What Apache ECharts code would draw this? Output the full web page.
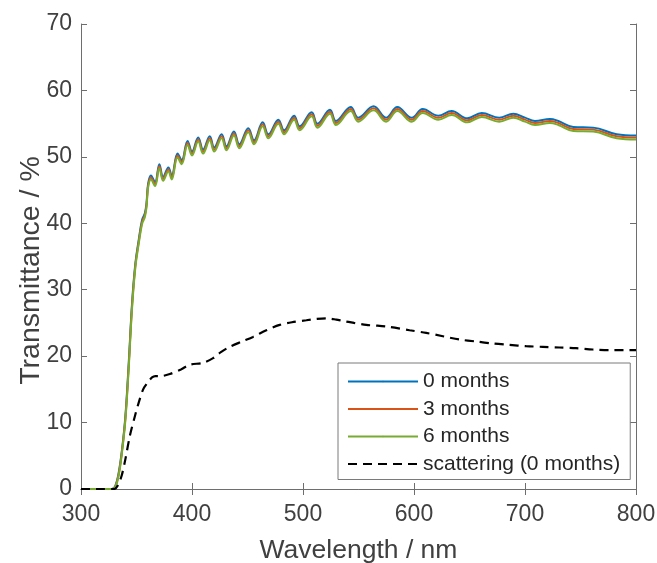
<!DOCTYPE html>
<html>
<head>
<meta charset="utf-8">
<script src="https://cdn.jsdelivr.net/npm/echarts@6/dist/echarts.min.js"></script>
<style>
	html, body { margin: 0; padding: 0; background: #fff; }
	#chart { width: 657px; height: 563px; }
</style>
</head>
<body>
<div id="chart"></div>
<script>
// 波长 (nm)
var wavelength = [300, 310, 320, 328, 331, 334, 337, 340, 343, 346,
	349, 352, 355, 357.5, 359, 360.5, 363, 366.7, 370.6, 374,
	378.7, 381.7, 387, 390.7, 396, 400, 405.6, 410, 416, 420,
	426.7, 431, 437.8, 442.6, 450.7, 455.9, 463.7, 468.8, 477.8, 483,
	492, 497, 507.8, 513, 524.3, 529.7, 543, 549.8, 563.6, 574.8,
	585, 598, 607.8, 621.9, 633.9, 648, 661, 676.8, 689.5, 700,
	709, 722.5, 730, 743.5, 761.5, 782.6, 800];
// 0 months
var month0 = [0, 0, 0, 0, 0.5, 2.5, 6, 11, 19, 28,
	34, 37.5, 40.5, 41.5, 43, 46, 47.2, 46.2, 48.9, 47,
	48.4, 47.2, 50.5, 49.5, 52.4, 50.8, 52.9, 51.1, 53.1, 51.4,
	53.4, 51.6, 53.8, 51.9, 54.3, 52.5, 55.2, 53.4, 55.6, 54,
	56.2, 54.6, 56.7, 55, 57.1, 55.4, 57.5, 55.9, 57.6, 55.9,
	57.5, 55.9, 57.2, 56.2, 56.9, 55.8, 56.6, 55.9, 56.5, 55.9,
	55.4, 55.7, 55.4, 54.5, 54.4, 53.4, 53.2];
// 3 months
var month3 = [0, 0, 0, 0, 0.4, 2.3, 5.8, 10.7, 18.6, 27.6,
	33.7, 37.2, 40.2, 41.2, 42.7, 45.7, 46.9, 45.9, 48.6, 46.7,
	48.1, 46.9, 50.2, 49.2, 52.1, 50.5, 52.6, 50.8, 52.8, 51.1,
	53.1, 51.3, 53.5, 51.6, 54.0, 52.2, 54.9, 53.1, 55.3, 53.7,
	55.9, 54.3, 56.4, 54.7, 56.8, 55.1, 57.2, 55.6, 57.3, 55.6,
	57.2, 55.6, 56.9, 55.9, 56.6, 55.5, 56.3, 55.6, 56.2, 55.6,
	55.1, 55.4, 55.1, 54.2, 54.1, 53.1, 52.9];
// 6 months
var month6 = [0, 0, 0, 0, 0.3, 2.1, 5.6, 10.4, 18.2, 27.2,
	33.4, 36.9, 39.9, 40.9, 42.4, 45.4, 46.6, 45.6, 48.3, 46.4,
	47.8, 46.6, 49.9, 48.9, 51.8, 50.2, 52.3, 50.5, 52.5, 50.8,
	52.8, 51.0, 53.2, 51.3, 53.7, 51.9, 54.6, 52.8, 55.0, 53.4,
	55.6, 54.0, 56.1, 54.4, 56.5, 54.8, 56.9, 55.3, 57.0, 55.3,
	56.9, 55.3, 56.6, 55.6, 56.3, 55.2, 56.0, 55.3, 55.9, 55.3,
	54.8, 55.1, 54.8, 53.9, 53.8, 52.8, 52.6];
// scattering (0 months)
var scatterWl = [300, 320, 330, 333, 336.6, 340, 344, 348.6, 352, 356,
	360, 364, 367, 372, 380, 390, 398, 410, 419, 426,
	434, 445, 455, 467, 479, 490, 503, 512, 521, 530,
	536, 546, 557, 566, 578, 596, 611, 626, 641, 656,
	671, 686, 701, 716, 731, 746, 761, 776, 800];
var scatterVal = [0, 0, 0, 0.5, 2, 4.5, 8, 11, 13, 15,
	16, 16.8, 17, 17, 17.3, 18, 18.7, 19, 19.7, 20.6,
	21.4, 22.2, 22.9, 23.9, 24.7, 25.1, 25.4, 25.6, 25.7, 25.5,
	25.3, 25.0, 24.7, 24.6, 24.4, 23.9, 23.5, 23.0, 22.5, 22.2,
	21.9, 21.7, 21.5, 21.4, 21.3, 21.2, 21.0, 20.9, 20.9];
var names = ['0 months', '3 months', '6 months', 'scattering (0 months)'];
var colors = ['#0072bd', '#d95319', '#77ac30', '#000000'];

var font = "'Liberation Sans', Arial, sans-serif";
var axisColor = '#6e6e6e';

function zip(xs, ys) {
	return xs.map(function (x, i) { return [x, ys[i]]; });
}

// 上边框和右边框 (只有刻度)
function boxAxis(pos, min, max, interval) {
	return {
		type: 'value', position: pos, min: min, max: max, interval: interval,
		axisLine: { show: true, lineStyle: { color: axisColor, width: 1 } },
		axisTick: { show: true, inside: true, length: 6, lineStyle: { color: axisColor } },
		axisLabel: { show: false },
		splitLine: { show: false }
	};
}

var myChart = echarts.init(document.getElementById('chart'));
var option = {
	animation: false,
	backgroundColor: '#fff',
	textStyle: { fontFamily: font },
	grid: { left: 81, right: 21, top: 24, bottom: 74, outerBoundsMode: 'none' },
	legend: {
		data: names,
		orient: 'vertical',
		left: 338,
		top: 363,
		padding: [8, 10, 5, 9],
		itemWidth: 70,
		itemHeight: 2,
		itemGap: 6.5,
		borderColor: '#7a7a7a',
		borderWidth: 1,
		backgroundColor: '#fff',
		textStyle: { fontFamily: font, fontSize: 21, color: '#262626' }
	},
	xAxis: [{
		type: 'value',
		min: 300, max: 800, interval: 100,
		name: 'Wavelength / nm',
		nameLocation: 'middle',
		nameGap: 48,
		nameMoveOverlap: false,
		nameTextStyle: { fontFamily: font, fontSize: 26.5, color: '#404040' },
		axisLine: { show: true, lineStyle: { color: axisColor, width: 1 } },
		axisTick: { show: true, inside: true, length: 6, lineStyle: { color: axisColor } },
		axisLabel: { fontFamily: font, fontSize: 23, color: '#404040', margin: 14 },
		splitLine: { show: false }
	}, boxAxis('top', 300, 800, 100)],
	yAxis: [{
		type: 'value',
		min: 0, max: 70, interval: 10,
		name: 'Transmittance / %',
		nameLocation: 'middle',
		nameGap: 35,
		nameMoveOverlap: false,
		nameTextStyle: { fontFamily: font, fontSize: 28.5, color: '#404040', padding: [0, 28, 0, 0] },
		axisLine: { show: true, lineStyle: { color: axisColor, width: 1 } },
		axisTick: { show: true, inside: true, length: 6, lineStyle: { color: axisColor } },
		axisLabel: { fontFamily: font, fontSize: 23, color: '#404040', margin: 9 },
		splitLine: { show: false }
	}, boxAxis('right', 0, 70, 10)],
	series: [{
		name: names[0], type: 'line', showSymbol: false, symbol: 'none', smooth: 0.4,
		color: colors[0], lineStyle: { width: 2, color: colors[0] },
		data: zip(wavelength, month0)
	}, {
		name: names[1], type: 'line', showSymbol: false, symbol: 'none', smooth: 0.4,
		color: colors[1], lineStyle: { width: 2, color: colors[1] },
		data: zip(wavelength, month3)
	}, {
		name: names[2], type: 'line', showSymbol: false, symbol: 'none', smooth: 0.4,
		color: colors[2], lineStyle: { width: 2, color: colors[2] },
		data: zip(wavelength, month6)
	}, {
		name: names[3], type: 'line', showSymbol: false, symbol: 'none', smooth: 0.3,
		color: colors[3], lineStyle: { width: 2.2, color: colors[3], type: [9, 6] },
		data: zip(scatterWl, scatterVal)
	}]
};
myChart.setOption(option);
window.addEventListener("resize", function() {
	myChart.resize();
});
</script>
</body>
</html>
